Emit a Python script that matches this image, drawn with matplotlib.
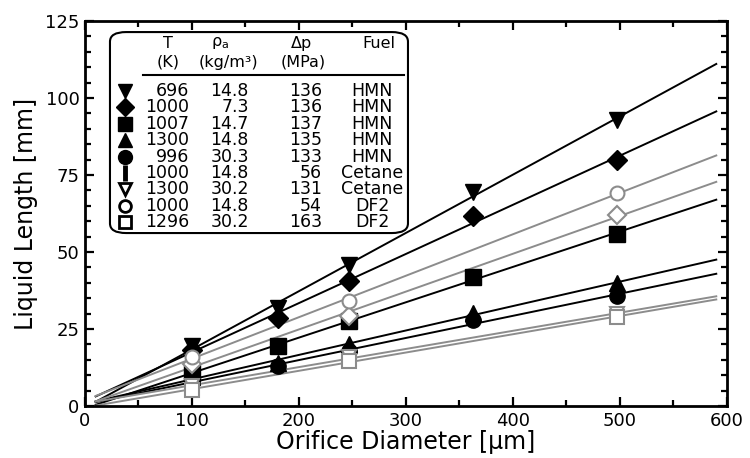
import numpy as np
import matplotlib
matplotlib.use("Agg")
import matplotlib.pyplot as plt
from matplotlib.patches import FancyBboxPatch
from matplotlib.ticker import MultipleLocator

plt.rcParams['font.family'] = ['DejaVu Sans']
plt.rcParams['mathtext.default'] = 'regular'

# ---------------- data ----------------
series_T = ["696", "1000", "1007", "1300", "996", "1000", "1300", "1000", "1296"]
series_rho = ["14.8", "7.3", "14.7", "14.8", "30.3", "14.8", "30.2", "14.8", "30.2"]
series_dp = ["136", "136", "137", "135", "133", "56", "131", "54", "163"]
series_fuel = ["HMN", "HMN", "HMN", "HMN", "HMN", "Cetane", "Cetane", "DF2", "DF2"]

d_tri_down = [100, 180, 247, 363, 497]
y_tri_down = [19.5, 31.8, 45.8, 69.6, 93.0]
d_diamond = [100, 180, 247, 363, 497]
y_diamond = [18.3, 28.5, 40.6, 61.7, 79.8]
d_square = [100, 180, 247, 363, 497]
y_square = [10.8, 19.5, 27.5, 41.9, 55.8]
d_tri_up = [100, 180, 247, 363, 497]
y_tri_up = [9.3, 14.0, 20.2, 30.3, 39.9]
d_circle = [100, 180, 247, 363, 497]
y_circle = [8.0, 13.0, 17.8, 27.9, 35.7]
d_cet1000 = [100, 247, 497]
y_cet1000 = [13.5, 29.2, 61.9]
d_cet1300 = [100, 247, 497]
y_cet1300 = [6.5, 15.8, 30.0]
d_df2_1000 = [100, 247, 497]
y_df2_1000 = [16.0, 34.2, 69.2]
d_df2_1296 = [100, 247, 497]
y_df2_1296 = [5.2, 14.7, 28.9]

fit_range = [10, 590]

BLACK = 'black'
GREY = '#8c8c8c'

series = [
    (d_tri_down, y_tri_down, 'v', BLACK, True),
    (d_diamond, y_diamond, 'D', BLACK, True),
    (d_square, y_square, 's', BLACK, True),
    (d_tri_up, y_tri_up, '^', BLACK, True),
    (d_circle, y_circle, 'o', BLACK, True),
    (d_cet1000, y_cet1000, 'D', GREY, False),
    (d_cet1300, y_cet1300, 'v', GREY, False),
    (d_df2_1000, y_df2_1000, 'o', GREY, False),
    (d_df2_1296, y_df2_1296, 's', GREY, False),
]
legend_markers = ['v', 'D', 's', '^', 'o', '|', 'v', 'o', 's']
legend_filled = [True, True, True, True, True, True, False, False, False]

# ---------------- figure ----------------
fig = plt.figure(figsize=(7.5, 4.58), dpi=100)
ax = fig.add_axes([0.1133, 0.1135, 0.856, 0.8405])

xf = np.array(fit_range, dtype=float)
for xs, ys, m, c, filled in series:
    k, b = np.polyfit(xs, ys, 1)
    ax.plot(xf, k * xf + b, color=c, lw=1.4, zorder=2)
    ms = 10 if m == 'D' else 11
    if filled:
        ax.plot(xs, ys, ls='none', marker=m, ms=ms, color=c, mec=c, zorder=3)
    else:
        ax.plot(xs, ys, ls='none', marker=m, ms=ms - 1, mfc='white', mec=c,
                mew=1.5, zorder=3)

ax.set_xlim(0, 600)
ax.set_ylim(0, 125)
ax.xaxis.set_major_locator(MultipleLocator(100))
ax.xaxis.set_minor_locator(MultipleLocator(50))
ax.yaxis.set_major_locator(MultipleLocator(25))
ax.yaxis.set_minor_locator(MultipleLocator(5))
ax.tick_params(which='both', direction='in', top=True, right=True,
               width=1.6, labelsize=13)
ax.tick_params(which='major', length=6.5, pad=4)
ax.tick_params(which='minor', length=4)
for s in ax.spines.values():
    s.set_linewidth(2)

ax.set_xlabel('Orifice Diameter [μm]', fontsize=17, labelpad=0)
ax.set_ylabel('Liquid Length [mm]', fontsize=17, labelpad=5)

# ---------------- legend table ----------------
def fx(px):
    return (px - 85) / 642.0

def fy(py):
    return (406 - py) / 385.0

box = FancyBboxPatch((fx(110), fy(233)), fx(408) - fx(110), fy(32) - fy(233),
                     boxstyle='round,pad=0,rounding_size=0.025',
                     transform=ax.transAxes, fc='white', ec='black', lw=1.5,
                     zorder=5)
ax.add_patch(box)

hfs = 11.5
hkw = dict(transform=ax.transAxes, fontsize=hfs, ha='center', va='center', zorder=6)
h1, h2 = 43, 62
ax.text(fx(168), fy(h1), 'T', **hkw)
ax.text(fx(168), fy(h2), '(K)', **hkw)
ax.text(fx(220), fy(h1), r'$\rho_a$', **hkw)
ax.text(fx(228), fy(h2), '(kg/m³)', **hkw)
ax.text(fx(302), fy(h1), 'Δp', **hkw)
ax.text(fx(303), fy(h2), '(MPa)', **hkw)
ax.text(fx(379), fy(h1), 'Fuel', **hkw)
ax.plot([fx(143), fx(404)], [fy(75), fy(75)], color='black', lw=1.5,
        transform=ax.transAxes, zorder=6)

tfs = 12.5
rkw = dict(transform=ax.transAxes, fontsize=tfs, va='center', zorder=6)
for i in range(len(series_T)):
    py = 91 + i * 16.4
    m = legend_markers[i]
    if m == '|':
        ax.plot([fx(125)], [fy(py)], marker='|', ms=12, mew=3.5, color='black',
                transform=ax.transAxes, zorder=6, clip_on=False)
    elif legend_filled[i]:
        ax.plot([fx(125)], [fy(py)], marker=m, ms=9 if m == 'D' else 10,
                color='black', transform=ax.transAxes, zorder=6, clip_on=False)
    else:
        ax.plot([fx(125)], [fy(py)], marker=m, ms=8.5, mfc='white', mec='black',
                mew=2, transform=ax.transAxes, zorder=6, clip_on=False)
    ax.text(fx(189), fy(py), series_T[i], ha='right', **rkw)
    ax.text(fx(249), fy(py), series_rho[i], ha='right', **rkw)
    ax.text(fx(322), fy(py), series_dp[i], ha='right', **rkw)
    ax.text(fx(372), fy(py), series_fuel[i], ha='center', **rkw)

fig.savefig('out.png', dpi=100)
